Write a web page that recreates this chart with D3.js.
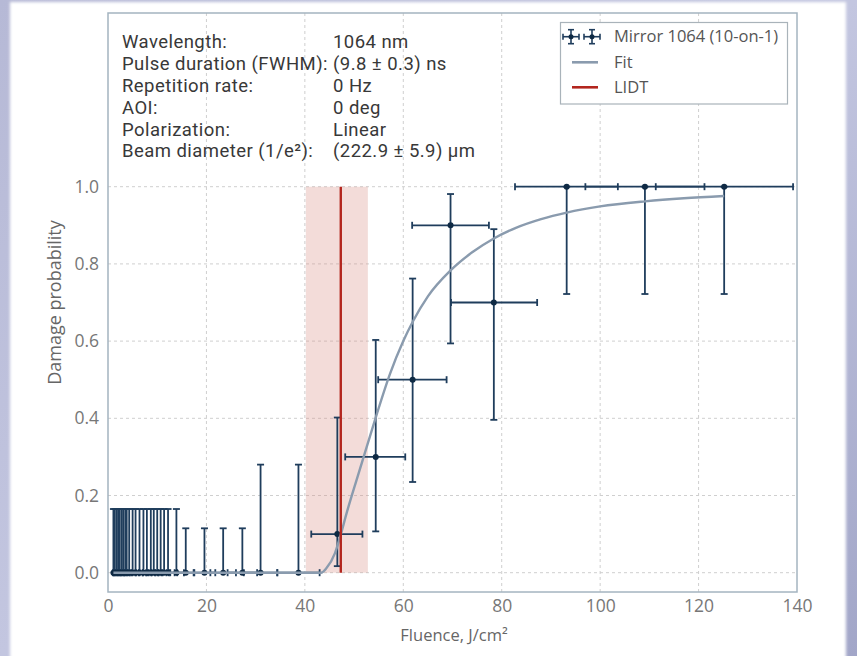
<!DOCTYPE html>
<html>
<head>
<meta charset="utf-8">
<script src="https://cdn.jsdelivr.net/npm/d3@7"></script>
<style>
  html, body { margin: 0; padding: 0; background: #ffffff; }
  svg { display: block; }
</style>
</head>
<body>
<svg id="chart" width="857" height="656"></svg>
<script>
// Measured fluence (J/cm²) for each test site group
const fluence = [1.1, 1.4, 1.8, 2.1, 2.4, 2.8, 3.1, 3.5, 3.8, 4.3, 5.0, 5.6, 6.4, 7.2, 7.9, 8.7,
  9.3, 10.0, 10.7, 11.4, 12.2, 13.9, 15.8, 19.6, 23.4, 27.3, 31.0, 38.7,
  46.6, 54.4, 61.9, 69.6, 78.4, 93.2, 109.1, 125.2];
const fluenceLow = [0.98, 1.25, 1.6, 1.87, 2.14, 2.49, 2.76, 3.12, 3.38, 3.83, 4.45, 4.98, 5.7, 6.41, 7.03, 7.74,
  8.28, 8.9, 9.52, 10.15, 10.86, 12.37, 14.06, 17.4, 20.8, 24.3, 27.6, 34.4,
  41.3, 48.2, 54.9, 61.8, 69.7, 82.7, 97.0, 111.3];
const fluenceHigh = [1.22, 1.55, 2.0, 2.33, 2.66, 3.11, 3.44, 3.89, 4.22, 4.77, 5.55, 6.22, 7.1, 7.99, 8.77, 9.66,
  10.32, 11.1, 11.88, 12.65, 13.54, 15.43, 17.54, 21.8, 26.0, 30.3, 34.4, 43.0,
  51.7, 60.4, 68.8, 77.4, 87.2, 103.6, 121.2, 139.2];
// Damage probability and its confidence interval
const probability = [0, 0, 0, 0, 0, 0, 0, 0, 0, 0, 0, 0, 0, 0, 0, 0,
  0, 0, 0, 0, 0, 0, 0, 0, 0, 0, 0, 0,
  0.1, 0.3, 0.5, 0.9, 0.7, 1.0, 1.0, 1.0];
const probLow = [0, 0, 0, 0, 0, 0, 0, 0, 0, 0, 0, 0, 0, 0, 0, 0,
  0, 0, 0, 0, 0, 0, 0, 0, 0, 0, 0, 0,
  0.017, 0.107, 0.235, 0.594, 0.396, 0.722, 0.722, 0.722];
const probHigh = [0.165, 0.165, 0.165, 0.165, 0.165, 0.165, 0.165, 0.165, 0.165, 0.165, 0.165, 0.165, 0.165, 0.165, 0.165, 0.165,
  0.165, 0.165, 0.165, 0.165, 0.165, 0.165, 0.115, 0.115, 0.115, 0.115, 0.28, 0.28,
  0.402, 0.603, 0.762, 0.981, 0.89, 1.0, 1.0, 1.0];

// Fitted damage-probability curve
const fitFluence = [1.1, 43.3, 44.4, 46.1, 47.1, 48.5, 50.5, 52.6, 54.6, 57.3, 60.0, 62.0, 65.0,
  69.6, 74.0, 78.4, 83.0, 88.0, 93.2, 100.0, 109.1, 117.0, 125.2];
const fitProb = [0, 0, 0.012, 0.05, 0.09, 0.155, 0.24, 0.327, 0.41, 0.515, 0.6, 0.652, 0.716,
  0.783, 0.83, 0.866, 0.894, 0.916, 0.933, 0.949, 0.962, 0.97, 0.976];

// Laser-induced damage threshold and its uncertainty band
const lidt = 47.3;
const lidtLow = 40.2;
const lidtHigh = 52.8;

const xTicks = [0, 20, 40, 60, 80, 100, 120, 140];
const yTicks = [0.0, 0.2, 0.4, 0.6, 0.8, 1.0];

const infoLabels = ["Wavelength:", "Pulse duration (FWHM):", "Repetition rate:", "AOI:", "Polarization:", "Beam diameter (1/e²):"];
const infoValues = ["1064 nm", "(9.8 ± 0.3) ns", "0 Hz", "0 deg", "Linear", "(222.9 ± 5.9) µm"];

const legendLabels = ["Mirror 1064 (10-on-1)", "Fit", "LIDT"];

const W = 857, H = 656;
const plot = { left: 108, right: 797, top: 13, bottom: 592 };
const barColor = "#1f3d5c";
const fitColor = "#8a9bae";
const lidtColor = "#b3261e";
const baseFont = '"Open Sans", "Noto Sans", sans-serif';
const textFont = 'Roboto, "Open Sans", sans-serif';

const svg = d3.select("#chart").attr("font-family", baseFont);
const defs = svg.append("defs");

// Page backdrop
const bg = defs.append("linearGradient").attr("id", "bg").attr("x1", 0).attr("y1", 0).attr("x2", 1).attr("y2", 1);
bg.append("stop").attr("offset", 0).attr("stop-color", "#b6b9d6");
bg.append("stop").attr("offset", 0.5).attr("stop-color", "#c3c6e0");
bg.append("stop").attr("offset", 1).attr("stop-color", "#a2a6c8");
defs.append("filter").attr("id", "soft").append("feGaussianBlur").attr("stdDeviation", 1.5);

svg.append("rect").attr("width", W).attr("height", H).attr("fill", "url(#bg)");
svg.append("rect").attr("x", 10).attr("y", 2).attr("width", 836).attr("height", H + 10)
  .attr("fill", "#ffffff").attr("filter", "url(#soft)");

const x = d3.scaleLinear().domain([0, 140]).range([plot.left, plot.right]);
const y = d3.scaleLinear().domain([-0.05, 1.45]).range([plot.bottom, plot.top]);

// Grid
const grid = svg.append("g").attr("stroke", "#cfcfcf").attr("stroke-width", 1).attr("stroke-dasharray", "3,3");
grid.selectAll("line.v").data(xTicks.slice(1, -1)).join("line")
  .attr("x1", d => x(d)).attr("x2", d => x(d)).attr("y1", plot.top).attr("y2", plot.bottom);
grid.selectAll("line.h").data(yTicks).join("line")
  .attr("x1", plot.left).attr("x2", plot.right).attr("y1", d => y(d)).attr("y2", d => y(d));

// LIDT uncertainty band
svg.append("rect")
  .attr("x", x(lidtLow)).attr("width", x(lidtHigh) - x(lidtLow))
  .attr("y", y(1)).attr("height", y(0) - y(1))
  .attr("fill", "#d9938a").attr("opacity", 0.32);

// Error bars
const pts = fluence.map((f, i) => ({
  f, fl: fluenceLow[i], fh: fluenceHigh[i], p: probability[i], pl: probLow[i], ph: probHigh[i]
}));
const eb = svg.append("g").attr("stroke", barColor).attr("stroke-width", 1.8).attr("fill", "none");
const cap = 3.5;
pts.forEach(d => {
  // horizontal (fluence) error
  eb.append("line").attr("x1", x(d.fl)).attr("x2", x(d.fh)).attr("y1", y(d.p)).attr("y2", y(d.p));
  eb.append("line").attr("x1", x(d.fl)).attr("x2", x(d.fl)).attr("y1", y(d.p) - cap).attr("y2", y(d.p) + cap);
  eb.append("line").attr("x1", x(d.fh)).attr("x2", x(d.fh)).attr("y1", y(d.p) - cap).attr("y2", y(d.p) + cap);
  // vertical (probability) error
  eb.append("line").attr("x1", x(d.f)).attr("x2", x(d.f)).attr("y1", y(d.pl)).attr("y2", y(d.ph));
  eb.append("line").attr("x1", x(d.f) - cap).attr("x2", x(d.f) + cap).attr("y1", y(d.ph)).attr("y2", y(d.ph));
  if (d.pl > 0) {
    eb.append("line").attr("x1", x(d.f) - cap).attr("x2", x(d.f) + cap).attr("y1", y(d.pl)).attr("y2", y(d.pl));
  }
});
svg.append("g").selectAll("circle").data(pts).join("circle")
  .attr("cx", d => x(d.f)).attr("cy", d => y(d.p)).attr("r", 3).attr("fill", "#0f2a44");

// Fit curve
const fitData = fitFluence.map((f, i) => [f, fitProb[i]]);
svg.append("path").datum(fitData)
  .attr("d", d3.line().x(d => x(d[0])).y(d => y(d[1])).curve(d3.curveMonotoneX))
  .attr("fill", "none").attr("stroke", fitColor).attr("stroke-width", 2.4);

// LIDT line
svg.append("line")
  .attr("x1", x(lidt)).attr("x2", x(lidt)).attr("y1", y(0)).attr("y2", y(1))
  .attr("stroke", lidtColor).attr("stroke-width", 2.4);

// Axes
const xAxis = svg.append("g").attr("transform", `translate(0,${plot.bottom})`)
  .call(d3.axisBottom(x).tickValues(xTicks).tickSize(0).tickPadding(8).tickFormat(d3.format("d")));
const yAxis = svg.append("g").attr("transform", `translate(${plot.left},0)`)
  .call(d3.axisLeft(y).tickValues(yTicks).tickSize(0).tickPadding(9).tickFormat(d3.format(".1f")));
[xAxis, yAxis].forEach(a => {
  a.attr("font-family", baseFont).attr("font-size", 17.5);
  a.select(".domain").remove();
  a.selectAll("text").attr("fill", "#777777");
});

// Frame
svg.append("rect")
  .attr("x", plot.left).attr("y", plot.top)
  .attr("width", plot.right - plot.left).attr("height", plot.bottom - plot.top)
  .attr("fill", "none").attr("stroke", "#a4b4c0").attr("stroke-width", 1.5);

// Axis titles
svg.append("text").attr("x", 454).attr("y", 641)
  .attr("text-anchor", "middle").attr("font-size", 16.5).attr("fill", "#666666")
  .text("Fluence, J/cm²");
svg.append("text").attr("transform", `translate(61,${(plot.top + plot.bottom) / 2}) rotate(-90)`)
  .attr("text-anchor", "middle").attr("font-size", 18).attr("fill", "#666666")
  .text("Damage probability");

// Measurement parameters
const info = svg.append("g").attr("font-size", 18.5).attr("font-family", textFont)
  .attr("letter-spacing", 0.45).attr("fill", "#383838");
infoLabels.forEach((t, i) => {
  info.append("text").attr("x", 122).attr("y", 42 + i * 21.8).attr("dy", "0.35em").text(t);
  info.append("text").attr("x", 333).attr("y", 42 + i * 21.8).attr("dy", "0.35em").text(infoValues[i]);
});

// Legend
const lg = svg.append("g");
lg.append("rect").attr("x", 560.5).attr("y", 22.5).attr("width", 227).attr("height", 81.5)
  .attr("fill", "#ffffff").attr("stroke", "#a9b3ba").attr("stroke-width", 1.2);
const rowY = [36.7, 62.3, 87.3];
[571, 592].forEach(cx => {
  const g = lg.append("g").attr("stroke", barColor).attr("stroke-width", 1.6);
  g.append("line").attr("x1", cx - 8).attr("x2", cx + 8).attr("y1", rowY[0]).attr("y2", rowY[0]);
  g.append("line").attr("x1", cx - 8).attr("x2", cx - 8).attr("y1", rowY[0] - 3).attr("y2", rowY[0] + 3);
  g.append("line").attr("x1", cx + 8).attr("x2", cx + 8).attr("y1", rowY[0] - 3).attr("y2", rowY[0] + 3);
  g.append("line").attr("x1", cx).attr("x2", cx).attr("y1", rowY[0] - 7).attr("y2", rowY[0] + 7);
  g.append("line").attr("x1", cx - 3).attr("x2", cx + 3).attr("y1", rowY[0] - 7).attr("y2", rowY[0] - 7);
  g.append("line").attr("x1", cx - 3).attr("x2", cx + 3).attr("y1", rowY[0] + 7).attr("y2", rowY[0] + 7);
  lg.append("circle").attr("cx", cx).attr("cy", rowY[0]).attr("r", 2.5).attr("fill", "#0f2a44");
});
lg.append("line").attr("x1", 572).attr("x2", 598).attr("y1", rowY[1]).attr("y2", rowY[1])
  .attr("stroke", fitColor).attr("stroke-width", 2.6);
lg.append("line").attr("x1", 572).attr("x2", 598).attr("y1", rowY[2]).attr("y2", rowY[2])
  .attr("stroke", lidtColor).attr("stroke-width", 2.6);
legendLabels.forEach((t, i) => {
  lg.append("text").attr("x", 614).attr("y", rowY[i]).attr("dy", "0.35em")
    .attr("font-size", 16.5).attr("fill", "#555555").text(t);
});
</script>
</body>
</html>
